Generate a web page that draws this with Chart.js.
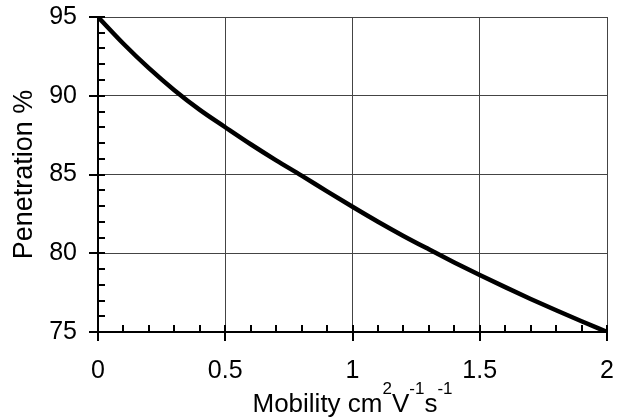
<!DOCTYPE html>
<html>
<head>
<meta charset="utf-8">
<script src="https://cdn.jsdelivr.net/npm/chart.js@4/dist/chart.umd.min.js"></script>
<style>
  html, body { margin: 0; padding: 0; background: #fff; }
  #wrap { width: 617px; height: 420px; }
</style>
</head>
<body>
<div id="wrap"><canvas id="chart" width="617" height="420"></canvas></div>
<script>
// values
const mobility = [0, 0.1, 0.2, 0.3, 0.4, 0.5, 0.6, 0.7, 0.8, 0.9, 1.0,
                  1.1, 1.2, 1.3, 1.4, 1.5, 1.6, 1.7, 1.8, 1.9, 2.0];
const penetration = [95.0, 93.3, 91.75, 90.35, 89.1, 88.0, 86.92, 85.9, 84.93, 83.93, 82.95,
                     82.0, 81.1, 80.25, 79.42, 78.62, 77.85, 77.1, 76.38, 75.68, 75.0];
const xTicks = [0, 0.5, 1, 1.5, 2];
const yTicks = [75, 80, 85, 90, 95];
const xMinorStep = 0.1;
const yMinorStep = 1;
// x title pieces: [text, superscript?]
const xTitleParts = [['Mobility cm', false], ['2', true], ['V', false], ['-1', true], ['s', false], ['-1', true]];

const FONT = 'Liberation Sans, Arial, sans-serif';

// axis ticks like the original: major ones cross the axis, minor ones point inward
const tickMarks = {
  id: 'tickMarks',
  afterDraw(chart) {
    const ctx = chart.ctx;
    const x = chart.scales.x, y = chart.scales.y;
    const area = chart.chartArea;
    ctx.save();
    ctx.strokeStyle = '#000';
    ctx.lineWidth = 2;
    ctx.beginPath();
    for (let v = x.min; v <= x.max + 1e-9; v += xMinorStep) {
      const px = Math.round(x.getPixelForValue(v));
      const major = xTicks.some(t => Math.abs(t - v) < 1e-6);
      ctx.moveTo(px, area.bottom + (major ? 9 : 0));
      ctx.lineTo(px, area.bottom - 7);
    }
    for (let v = y.min; v <= y.max + 1e-9; v += yMinorStep) {
      const py = Math.round(y.getPixelForValue(v));
      const major = yTicks.some(t => Math.abs(t - v) < 1e-6);
      ctx.moveTo(area.left - (major ? 9 : 0), py);
      ctx.lineTo(area.left + 7, py);
    }
    ctx.stroke();

    // x axis title with real superscripts
    const mainFont = '26px ' + FONT, supFont = '17px ' + FONT;
    let total = 0;
    xTitleParts.forEach(([t, sup]) => {
      ctx.font = sup ? supFont : mainFont;
      total += ctx.measureText(t).width;
    });
    let cx = (area.left + area.right) / 2 - total / 2;
    const base = 412;
    ctx.fillStyle = '#000';
    ctx.textBaseline = 'alphabetic';
    ctx.textAlign = 'left';
    xTitleParts.forEach(([t, sup]) => {
      ctx.font = sup ? supFont : mainFont;
      ctx.fillText(t, cx, sup ? base - 18 : base);
      cx += ctx.measureText(t).width;
    });
    ctx.restore();
  }
};

new Chart(document.getElementById('chart'), {
  type: 'line',
  data: {
    datasets: [{
      data: mobility.map((m, i) => ({ x: m, y: penetration[i] })),
      borderColor: '#000',
      borderWidth: 4.5,
      pointRadius: 0,
      cubicInterpolationMode: 'monotone',
      fill: false
    }]
  },
  options: {
    responsive: false,
    animation: false,
    layout: { padding: { top: 17, right: 10, left: 0, bottom: 0 } },
    plugins: { legend: { display: false }, tooltip: { enabled: false } },
    scales: {
      x: {
        type: 'linear',
        min: 0, max: 2,
        afterBuildTicks: s => { s.ticks = xTicks.map(v => ({ value: v })); },
        afterFit: s => { s.height = 88; s.paddingLeft = 0; s.paddingRight = 0; },
        ticks: {
          color: '#000',
          font: { family: FONT, size: 25 },
          padding: 24,
          maxRotation: 0,
          callback: v => String(v)
        },
        grid: { color: '#444', lineWidth: 1, drawTicks: false },
        border: { color: '#000', width: 2 },
        title: { display: false }
      },
      y: {
        min: 75, max: 95,
        afterBuildTicks: s => { s.ticks = yTicks.map(v => ({ value: v })); },
        afterFit: s => { s.width = 98; s.paddingTop = 0; s.paddingBottom = 0; },
        ticks: {
          color: '#000',
          font: { family: FONT, size: 25 },
          padding: 21
        },
        grid: { color: '#444', lineWidth: 1, drawTicks: false },
        border: { color: '#000', width: 2 },
        title: {
          display: true,
          text: 'Penetration %',
          color: '#000',
          font: { family: FONT, size: 27 },
          padding: { top: 8, bottom: 0 }
        }
      }
    }
  },
  plugins: [tickMarks]
});
</script>
</body>
</html>
